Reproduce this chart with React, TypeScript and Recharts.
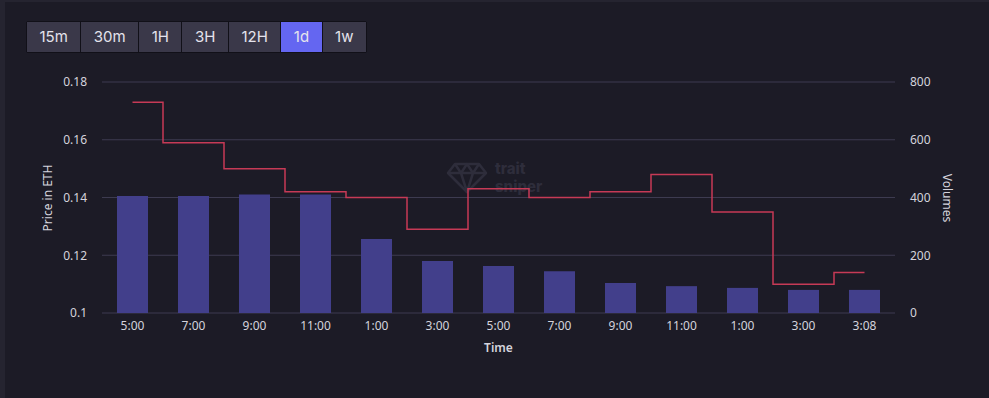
import { ComposedChart, Bar, Line, XAxis, YAxis, CartesianGrid } from 'recharts';

const times = ['5:00', '7:00', '9:00', '11:00', '1:00', '3:00', '5:00', '7:00', '9:00', '11:00', '1:00', '3:00', '3:08'];
const prices = [0.173, 0.159, 0.15, 0.142, 0.14, 0.129, 0.143, 0.14, 0.142, 0.148, 0.135, 0.11, 0.114];
const volumes = [405, 405, 410, 410, 256, 180, 163, 145, 104, 93, 87, 80, 80];
const priceTicks = [0.1, 0.12, 0.14, 0.16, 0.18];
const volumeTicks = [0, 200, 400, 600, 800];
const ranges = ['15m', '30m', '1H', '3H', '12H', '1d', '1w'];
const activeRange = '1d';

const BG = '#1c1b26';
const TEXT = '#d4d3dc';
const FONT = '"Noto Sans", "Open Sans", sans-serif';

const data = times.map((time, i) => ({ time, price: prices[i], volume: volumes[i] }));

function RangeButtons() {
  return (
    <div
      style={{
        position: 'absolute',
        left: 26,
        top: 21,
        display: 'flex',
        border: '1px solid #111018',
        background: '#111018',
        gap: 1,
        borderRadius: 2,
      }}
    >
      {ranges.map((r) => (
        <div
          key={r}
          style={{
            height: 30,
            lineHeight: '30px',
            padding: '0 12.5px',
            textAlign: 'center',
            fontFamily: 'Inter, sans-serif',
            fontSize: 15,
            color: '#e4e3ec',
            background: r === activeRange ? '#6466f1' : '#3a3849',
          }}
        >
          {r}
        </div>
      ))}
    </div>
  );
}

// watermark sits behind the chart so the price line draws over it
function Watermark() {
  return (
    <div style={{ position: 'absolute', left: 446, top: 160, display: 'flex', alignItems: 'center', gap: 7 }}>
      <svg width="42" height="32" viewBox="0 0 42 32">
        <g fill="none" stroke="#2e2d3b" strokeWidth="2.5" strokeLinejoin="round">
          <path d="M9 2 L33 2 L40 11 L21 30 L2 11 Z" />
          <path d="M2 11 L40 11 M9 2 L15 11 L21 2 L27 11 L33 2 M15 11 L21 30 L27 11" />
        </g>
      </svg>
      <div style={{ fontFamily: 'Inter, sans-serif', fontWeight: 800, fontSize: 15, lineHeight: '18px', color: '#2e2d3b' }}>
        <div>trait</div>
        <div>sniper</div>
      </div>
    </div>
  );
}

export default function App() {
  return (
    <div style={{ position: 'fixed', left: 0, top: 0, width: 989, height: 398, background: '#252430', overflow: 'hidden' }}>
      <div style={{ position: 'absolute', left: 5, top: 2, right: 0, bottom: 0, background: BG }} />
      <Watermark />
      <div style={{ position: 'absolute', left: 0, top: 0 }}>
        <ComposedChart
          width={989}
          height={398}
          data={data}
          margin={{ top: 82, right: 34, bottom: 55, left: 42 }}
          style={{ fontFamily: FONT }}
        >
          <CartesianGrid vertical={false} stroke="#3d3b50" yAxisId="price" />
          <XAxis
            dataKey="time"
            height={30}
            axisLine={false}
            tickLine={false}
            tick={{ fill: TEXT, fontSize: 12 }}
            interval={0}
            label={{ value: 'Time', position: 'bottom', offset: 0, fill: TEXT, fontSize: 12, fontWeight: 600 }}
          />
          <YAxis
            yAxisId="price"
            orientation="left"
            width={60}
            domain={[0.1, 0.18]}
            ticks={priceTicks}
            axisLine={false}
            tickLine={false}
            tickMargin={9}
            tick={{ fill: TEXT, fontSize: 12 }}
            label={() => (
              <text x={47} y={198} transform="rotate(-90 47 198)" textAnchor="middle" dominantBaseline="central" fill={TEXT} fontSize={12}>
                Price in ETH
              </text>
            )}
          />
          <YAxis
            yAxisId="volume"
            orientation="right"
            width={60}
            domain={[0, 800]}
            ticks={volumeTicks}
            axisLine={false}
            tickLine={false}
            tickMargin={9}
            tick={{ fill: TEXT, fontSize: 12, textAnchor: 'start' }}
            label={() => (
              <text x={947} y={198} transform="rotate(90 947 198)" textAnchor="middle" dominantBaseline="central" fill={TEXT} fontSize={12}>
                Volumes
              </text>
            )}
          />
          <Bar yAxisId="volume" dataKey="volume" fill="#423f8b" barSize={31} isAnimationActive={false} />
          <Line
            yAxisId="price"
            dataKey="price"
            type="step"
            stroke="#c63a56"
            strokeWidth={1.5}
            dot={false}
            activeDot={false}
            isAnimationActive={false}
          />
        </ComposedChart>
      </div>
      <RangeButtons />
    </div>
  );
}
